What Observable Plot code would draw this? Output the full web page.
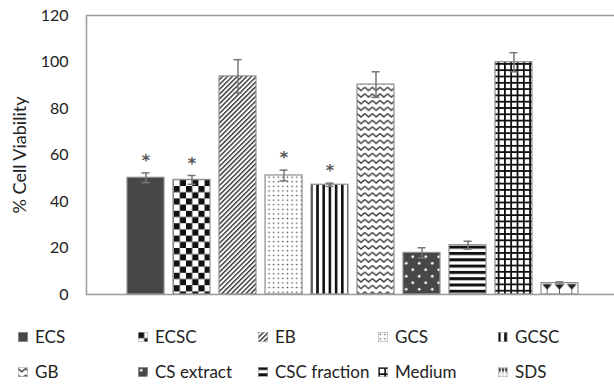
<!DOCTYPE html>
<html>
<head>
<meta charset="utf-8">
<script src="https://cdn.jsdelivr.net/npm/d3@7"></script>
<script src="https://cdn.jsdelivr.net/npm/@observablehq/plot@0.6"></script>
<style>
  html, body { margin: 0; padding: 0; background: #fff; overflow: hidden; width: 614px; height: 387px; }
  #legend { display: grid; grid-template-columns: repeat(5, 120px); grid-auto-rows: 35px; margin: 9px 0 0 18px;
            font-family: Lato, sans-serif; font-size: 17px; color: #222; }
  #legend .item { display: flex; align-items: center; white-space: nowrap; }
  #legend svg { margin-right: 7px; flex: none; }
</style>
</head>
<body>
<svg width="0" height="0" style="position:absolute">
  <defs>
    <pattern id="pat0" width="10" height="10" patternUnits="userSpaceOnUse"><rect width="10" height="10" fill="#474747"/></pattern>
    <pattern id="pat1" width="12.4" height="12.4" patternUnits="userSpaceOnUse"><rect width="12.4" height="12.4" fill="#fff"/><rect width="6.2" height="6.2" fill="#111"/><rect x="6.2" y="6.2" width="6.2" height="6.2" fill="#111"/></pattern>
    <pattern id="pat2" width="3.4" height="3.4" patternUnits="userSpaceOnUse" patternTransform="rotate(45)"><rect width="3.4" height="3.4" fill="#fff"/><rect width="1.4" height="3.4" fill="#333"/></pattern>
    <pattern id="pat3" width="4.6" height="4.6" patternUnits="userSpaceOnUse"><rect width="4.6" height="4.6" fill="#fff"/><circle cx="2.3" cy="2.3" r="0.8" fill="#444"/></pattern>
    <pattern id="pat4" width="6.2" height="6.2" patternUnits="userSpaceOnUse"><rect width="6.2" height="6.2" fill="#fff"/><rect width="2.6" height="6.2" fill="#111"/></pattern>
    <pattern id="pat5" width="7.6" height="6.6" patternUnits="userSpaceOnUse"><rect width="7.6" height="6.6" fill="#fff"/><polyline points="0,1.5 3.8,4.8 7.6,1.5" fill="none" stroke="#333" stroke-width="1.4"/></pattern>
    <pattern id="pat6" width="13" height="13" patternUnits="userSpaceOnUse"><rect width="13" height="13" fill="#474747"/><circle cx="3.25" cy="3.25" r="1.3" fill="#fff" stroke="#aaa" stroke-width="0.6"/><circle cx="9.75" cy="9.75" r="1.3" fill="#fff" stroke="#aaa" stroke-width="0.6"/></pattern>
    <pattern id="pat7" width="6.3" height="6.3" patternUnits="userSpaceOnUse"><rect width="6.3" height="6.3" fill="#fff"/><rect width="6.3" height="3" fill="#111"/></pattern>
    <pattern id="pat8" width="6.3" height="6.3" patternUnits="userSpaceOnUse"><rect width="6.3" height="6.3" fill="#fff"/><rect width="1.8" height="6.3" fill="#111"/><rect width="6.3" height="1.8" fill="#111"/></pattern>
    <pattern id="pat9" width="0.3333" height="1" patternUnits="objectBoundingBox" patternContentUnits="objectBoundingBox"><rect width="0.3333" height="1" fill="#fff"/><path d="M0.03,0.12 L0.30,0.12 L0.1667,0.62 Z" fill="#222"/><rect x="0.158" y="0.5" width="0.018" height="0.5" fill="#222"/></pattern>
  </defs>
</svg>
<div id="chart"></div>
<div id="legend"></div>
<script>
const categories = ["ECS", "ECSC", "EB", "GCS", "GCSC", "GB", "CS extract", "CSC fraction", "Medium", "SDS"];
const values = [50.2, 49.3, 93.8, 51.2, 47.2, 90.3, 17.9, 21.2, 99.9, 4.9];
const errors = [2.1, 1.9, 7.2, 2.3, 0.7, 5.5, 2.2, 1.7, 4.1, 0.5];
const significant = [true, true, false, true, true, false, false, false, false, false];
const yTicks = [0, 20, 40, 60, 80, 100, 120];
const yLabel = "% Cell Viability";

const data = categories.map((c, i) => ({
  category: c, value: values[i], error: errors[i], sig: significant[i], fill: `url(#pat${i})`
}));

const errStyle = {stroke: "#777", strokeWidth: 1.5};
const plot = Plot.plot({
  width: 614, height: 310,
  marginLeft: 86, marginRight: 0, marginTop: 15, marginBottom: 16,
  style: {fontFamily: "Lato, sans-serif", fontSize: "16px", color: "#222", background: "white"},
  x: {type: "band", domain: categories, range: [121, 584], paddingInner: 0.2, paddingOuter: 0.1, axis: null},
  y: {domain: [0, 120]},
  color: {type: "identity"},
  marks: [
    Plot.barY(data, {x: "category", y: "value", fill: "fill", stroke: "#8f8f8f", strokeWidth: 1.2}),
    Plot.ruleX(data, {x: "category", y1: d => d.value - d.error, y2: d => d.value + d.error, ...errStyle}),
    Plot.tickY(data, {x: "category", y: d => d.value + d.error, insetLeft: 14.5, insetRight: 14.5, ...errStyle}),
    Plot.tickY(data, {x: "category", y: d => d.value - d.error, insetLeft: 14.5, insetRight: 14.5, ...errStyle}),
    Plot.text(data.filter(d => d.sig), {x: "category", y: d => d.value + d.error, text: () => "*", dy: -12,
              fontSize: 16, fontFamily: "DejaVu Sans", fontWeight: "bold", fill: "#555"}),
    Plot.frame({stroke: "#9a9a9a", strokeWidth: 1.5, insetRight: -10}),
    Plot.axisY({ticks: yTicks, tickSize: 0, tickPadding: 18, fontSize: 16, label: null}),
    Plot.text([yLabel], {frameAnchor: "left", text: d => d, rotate: -90, dx: -66, fontSize: 18,
              textAnchor: "middle", lineAnchor: "middle", fill: "#222"})
  ]
});
document.getElementById("chart").appendChild(plot);

const legend = document.getElementById("legend");
categories.forEach((c, i) => {
  const item = document.createElement("div");
  item.className = "item";
  item.innerHTML = `<svg width="10" height="10"><rect x="0.25" y="0.25" width="9.5" height="9.5" fill="url(#pat${i})" stroke="#999" stroke-width="0.5"/></svg><span>${c}</span>`;
  legend.appendChild(item);
});
</script>
</body>
</html>
